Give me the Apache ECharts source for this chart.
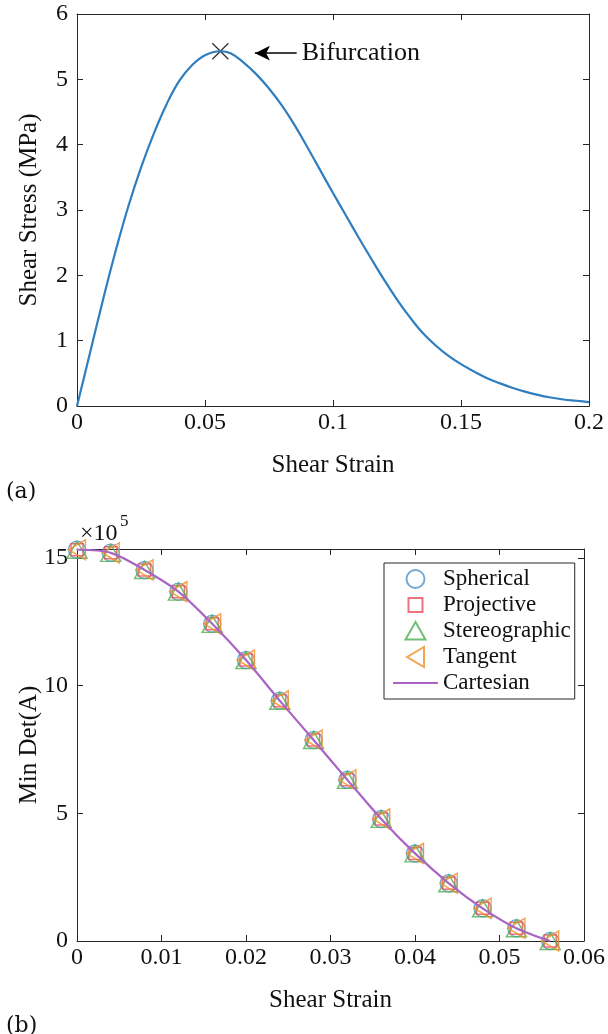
<!DOCTYPE html>
<html>
<head>
<meta charset="utf-8">
<script src="https://cdn.jsdelivr.net/npm/echarts@6/dist/echarts.min.js"></script>
<style>
html,body{margin:0;padding:0;background:#fff;}
#c{width:608px;height:1034px;}
</style>
</head>
<body>
<div id="c"></div>
<script>
// ---- Panel (a): shear stress vs shear strain ----
const strainA = [0,0.005,0.01,0.015,0.02,0.025,0.03,0.035,0.04,0.045,0.05,0.056,0.06,0.065,0.07,0.075,0.08,0.085,0.09,0.095,0.1,0.105,0.11,0.115,0.12,0.125,0.13,0.135,0.14,0.145,0.15,0.155,0.16,0.165,0.17,0.175,0.18,0.185,0.19,0.195,0.2];
const stressA = [0,0.8,1.6,2.36,3.05,3.65,4.17,4.62,4.98,5.22,5.37,5.43,5.40,5.26,5.08,4.86,4.6,4.3,3.96,3.61,3.26,2.92,2.58,2.25,1.93,1.63,1.36,1.12,0.93,0.77,0.64,0.53,0.43,0.35,0.28,0.22,0.17,0.13,0.1,0.08,0.06];
const bifurcation = [0.056, 5.43];
const arrowFrom = [0.0858, 5.40];
const arrowTo = [0.0695, 5.40];
const xTicksA = [0, 0.05, 0.1, 0.15, 0.2];
const yTicksA = [0, 1, 2, 3, 4, 5, 6];

// ---- Panel (b): Min Det(A) (x10^5) vs shear strain ----
const strainB = [0,0.004,0.008,0.012,0.016,0.02,0.024,0.028,0.032,0.036,0.04,0.044,0.048,0.052,0.056];
const spherical     = [15.32,15.2,14.53,13.68,12.42,11.0,9.41,7.87,6.31,4.78,3.43,2.26,1.28,0.5,0.0];
const projective    = [15.32,15.2,14.53,13.68,12.42,11.0,9.41,7.87,6.31,4.78,3.43,2.26,1.28,0.5,0.0];
const stereographic = [15.32,15.2,14.53,13.68,12.42,11.0,9.41,7.87,6.31,4.78,3.43,2.26,1.28,0.5,0.0];
const tangent       = [15.32,15.2,14.53,13.68,12.42,11.0,9.41,7.87,6.31,4.78,3.43,2.26,1.28,0.5,0.0];
const cartesian     = [15.32,15.2,14.53,13.68,12.42,11.0,9.41,7.87,6.31,4.78,3.43,2.26,1.28,0.5,0.0];
const xTicksB = [0, 0.01, 0.02, 0.03, 0.04, 0.05, 0.06];
const yTicksB = [0, 5, 10, 15];
const yMaxB = 15.35;
const legendNames = ['Spherical','Projective','Stereographic','Tangent','Cartesian'];

const FONT = 'Liberation Serif';
const AX = '#262626';
const zip = (xs, ys) => xs.map((x, i) => [x, ys[i]]);

// legend icon shapes (22x22 box, padded with move-to points so sizes differ)
const PAD = 'M0,0M22,22';
const ICONS = {
  Spherical: 'path://' + PAD + 'M20,11A9,9,0,1,1,2,11A9,9,0,1,1,20,11Z',
  Projective: 'path://' + PAD + 'M4,4L18,4L18,18L4,18Z',
  Stereographic: 'path://' + PAD + 'M11,2L21,19.5L1,19.5Z',
  Tangent: 'path://' + PAD + 'M2.5,11L19.5,1L19.5,21Z'
};

function xAx(grid, ticks, showLabels, pos, name) {
  return {
    gridIndex: grid, type: 'value', position: pos,
    min: ticks[0], max: ticks[ticks.length - 1], interval: ticks[1] - ticks[0],
    axisLine: {show: true, onZero: false, lineStyle: {color: AX, width: 1}},
    axisTick: {show: true, inside: true, length: 6, lineStyle: {color: AX}},
    axisLabel: {show: showLabels, fontSize: 24, color: '#111', margin: 5, fontFamily: FONT},
    splitLine: {show: false},
    name: name || '', nameLocation: 'middle', nameGap: 47, nameMoveOverlap: false,
    nameTextStyle: {fontSize: 25, color: '#111', fontFamily: FONT}
  };
}
function yAx(grid, ticks, max, showLabels, pos, name) {
  return {
    gridIndex: grid, type: 'value', position: pos,
    min: ticks[0], max: max, interval: ticks[1] - ticks[0],
    axisLine: {show: true, onZero: false, lineStyle: {color: AX, width: 1}},
    axisTick: {show: true, inside: true, length: 6, lineStyle: {color: AX}},
    axisLabel: {show: showLabels, fontSize: 24, color: '#111', margin: 9, fontFamily: FONT, showMaxLabel: max === ticks[ticks.length - 1]},
    splitLine: {show: false},
    name: name || '', nameLocation: 'middle', nameGap: 35, nameMoveOverlap: false,
    nameTextStyle: {fontSize: 25, color: '#111', fontFamily: FONT}
  };
}

function markerSeries(name, vals, symbol, size, color, rotate) {
  return {
    name: name, type: 'scatter', xAxisIndex: 2, yAxisIndex: 2,
    data: zip(strainB, vals), symbol: symbol, symbolSize: size, symbolRotate: rotate || 0,
    itemStyle: {color: 'rgba(0,0,0,0)', borderColor: color, borderWidth: 1.5},
    emphasis: {disabled: true}
  };
}

const chart = echarts.init(document.getElementById('c'), null, {renderer: 'canvas'});
chart.setOption({
  animation: false,
  backgroundColor: '#fff',
  textStyle: {fontFamily: FONT},
  grid: [
    {left: 77, right: 19, top: 14, height: 392},
    {left: 77, right: 19, top: 549, height: 392}
  ],
  xAxis: [
    xAx(0, xTicksA, true, 'bottom', 'Shear Strain'),
    xAx(0, xTicksA, false, 'top'),
    xAx(1, xTicksB, true, 'bottom', 'Shear Strain'),
    xAx(1, xTicksB, false, 'top')
  ],
  yAxis: [
    yAx(0, yTicksA, yTicksA[yTicksA.length - 1], true, 'left', 'Shear Stress (MPa)'),
    yAx(0, yTicksA, yTicksA[yTicksA.length - 1], false, 'right'),
    yAx(1, yTicksB, yMaxB, true, 'left', 'Min Det(A)'),
    yAx(1, yTicksB, yMaxB, false, 'right')
  ],
  legend: {
    left: 384, top: 563, orient: 'vertical',
    itemWidth: 45, itemHeight: 22, itemGap: 0,
    padding: [3, 4, 3, 8],
    symbolKeepAspect: true,
    borderColor: AX, borderWidth: 1, backgroundColor: '#fff',
    textStyle: {fontSize: 23, lineHeight: 26, color: '#111', fontFamily: FONT},
    data: legendNames.map(n => n === 'Cartesian'
      ? {name: n, itemStyle: {opacity: 0, color: 'rgba(0,0,0,0)', borderWidth: 0}}
      : {name: n, icon: ICONS[n]})
  },
  series: [
    {
      type: 'line', xAxisIndex: 0, yAxisIndex: 0,
      data: zip(strainA, stressA), smooth: 0.4, symbol: 'none',
      lineStyle: {color: '#2f7ebf', width: 2.2},
      markLine: {
        silent: true, animation: false,
        lineStyle: {color: '#000', width: 1.5, type: 'solid'},
        symbolSize: [11, 15],
        label: {show: true, position: 'end', formatter: 'Bifurcation', fontSize: 26, color: '#111', fontFamily: FONT, distance: 5},
        data: [[{coord: arrowTo, symbol: 'arrow'}, {coord: arrowFrom, symbol: 'none'}]]
      }
    },
    {
      type: 'scatter', xAxisIndex: 0, yAxisIndex: 0,
      data: [bifurcation], symbol: 'path://M0,0L10,10M10,0L0,10', symbolSize: 16,
      itemStyle: {color: 'rgba(0,0,0,0)', borderColor: '#000', borderWidth: 1.3}
    },
    markerSeries('Spherical', spherical, 'circle', 17, '#4f93cc'),
    markerSeries('Projective', projective, 'rect', 12, '#e8505a'),
    markerSeries('Stereographic', stereographic, 'triangle', [20, 17], '#4fae52'),
    markerSeries('Tangent', tangent, 'triangle', [20, 17], '#f28c28', 90),
    {
      name: 'Cartesian', type: 'line', xAxisIndex: 2, yAxisIndex: 2,
      data: zip(strainB, cartesian), smooth: 0.3, symbol: 'none',
      lineStyle: {color: '#a965c4', width: 2.2}, itemStyle: {color: '#a965c4'}
    }
  ],
  graphic: [
    {type: 'text', left: 6, top: 481, style: {text: '(a)', fontSize: 22, fontFamily: 'DejaVu Serif', fill: '#111'}},
    {type: 'text', left: 6, top: 1015, style: {text: '(b)', fontSize: 22, fontFamily: 'DejaVu Serif', fill: '#111'}},
    {type: 'text', left: 80, top: 522, style: {text: '\u00d710', fontSize: 24, fontFamily: FONT, fill: '#111'}},
    {type: 'text', left: 120, top: 513, style: {text: '5', fontSize: 17, fontFamily: FONT, fill: '#111'}}
  ]
});
</script>
</body>
</html>
